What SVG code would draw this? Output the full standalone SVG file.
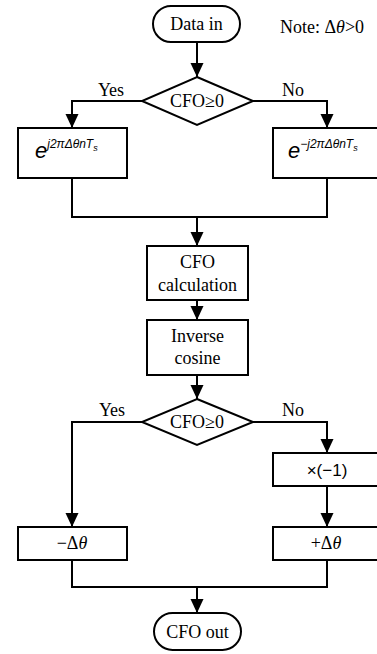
<svg xmlns="http://www.w3.org/2000/svg" width="377" height="654" viewBox="0 0 377 654">
<style>
.s{fill:#fff;stroke:#000;stroke-width:2}
.c{fill:none;stroke:#000;stroke-width:2}
.t{font-family:"Liberation Serif","Times New Roman",serif;font-size:18px;fill:#000;text-anchor:middle}
.m{font-family:"Liberation Sans",Arial,sans-serif;font-style:italic;fill:#000}
.a{font-family:"Liberation Sans",Arial,sans-serif;font-size:17px;fill:#000;text-anchor:middle}
</style>
<defs>
<marker id="ah" viewBox="0 0 14 14" refX="14" refY="7" markerWidth="14" markerHeight="14" markerUnits="userSpaceOnUse" orient="auto">
<path d="M0,0.5 L14,7 L0,13.5 z" fill="#000"/>
</marker>
</defs>
<rect width="377" height="654" fill="#fff"/>
<g id="connectors">
<path class="c" d="M197,42 V77" marker-end="url(#ah)"/>
<path class="c" d="M142,101 H72 V128" marker-end="url(#ah)"/>
<path class="c" d="M253,101 H327 V128" marker-end="url(#ah)"/>
<path class="c" d="M72,178 V217 H327 V178"/>
<path class="c" d="M197,217 V246" marker-end="url(#ah)"/>
<path class="c" d="M197,300 V320" marker-end="url(#ah)"/>
<path class="c" d="M197,375 V399" marker-end="url(#ah)"/>
<path class="c" d="M142,422 H72 V527" marker-end="url(#ah)"/>
<path class="c" d="M253,422 H327 V453" marker-end="url(#ah)"/>
<path class="c" d="M327,486 V527" marker-end="url(#ah)"/>
<path class="c" d="M72,560 V587 H327 V560"/>
<path class="c" d="M197,587 V613" marker-end="url(#ah)"/>
<text class="t" x="111" y="96">Yes</text>
<text class="t" x="293" y="96">No</text>
<text class="t" x="112" y="416">Yes</text>
<text class="t" x="293" y="416">No</text>
</g>
<g id="note"><text class="t" x="322" y="33">Note: Δ<tspan font-style="italic">θ</tspan>&gt;0</text></g>
<g id="data-in"><rect class="s" x="153" y="6" width="87" height="36" rx="18"/><text class="t" x="196.5" y="30">Data in</text></g>
<g id="decision1"><path class="s" d="M197,77 L253,101 L197,125 L142,101 z"/><text class="t" x="197" y="107">CFO≥0</text></g>
<g id="pos-rot"><rect class="s" x="18" y="128" width="109" height="50"/><text class="m" x="35" y="158" font-size="22">e<tspan font-size="12" dy="-10">j2πΔθnT</tspan><tspan font-size="9" dy="3">s</tspan></text></g>
<g id="neg-rot"><rect class="s" x="273" y="128" width="109" height="50"/><text class="m" x="288" y="158" font-size="22">e<tspan font-size="12" dy="-10">−j2πΔθnT</tspan><tspan font-size="9" dy="3">s</tspan></text></g>
<g id="cfo-calc"><rect class="s" x="147" y="246" width="101" height="54"/><text class="t" x="197.5" y="268">CFO</text><text class="t" x="197.5" y="291">calculation</text></g>
<g id="inv-cos"><rect class="s" x="147" y="320" width="101" height="55"/><text class="t" x="197.5" y="342">Inverse</text><text class="t" x="197.5" y="364">cosine</text></g>
<g id="decision2"><path class="s" d="M197,399 L253,422 L197,445 L142,422 z"/><text class="t" x="197" y="428">CFO≥0</text></g>
<g id="neg1"><rect class="s" x="273" y="453" width="109" height="33"/><text class="a" x="327" y="476">×(−1)</text></g>
<g id="minus"><rect class="s" x="18" y="527" width="109" height="33"/><text class="t" x="72" y="549">−Δ<tspan font-style="italic">θ</tspan></text></g>
<g id="plus"><rect class="s" x="273" y="527" width="109" height="33"/><text class="t" x="326" y="549">+Δ<tspan font-style="italic">θ</tspan></text></g>
<g id="cfo-out"><rect class="s" x="154" y="613" width="87" height="37" rx="18.5"/><text class="t" x="197.5" y="638">CFO out</text></g>
</svg>
